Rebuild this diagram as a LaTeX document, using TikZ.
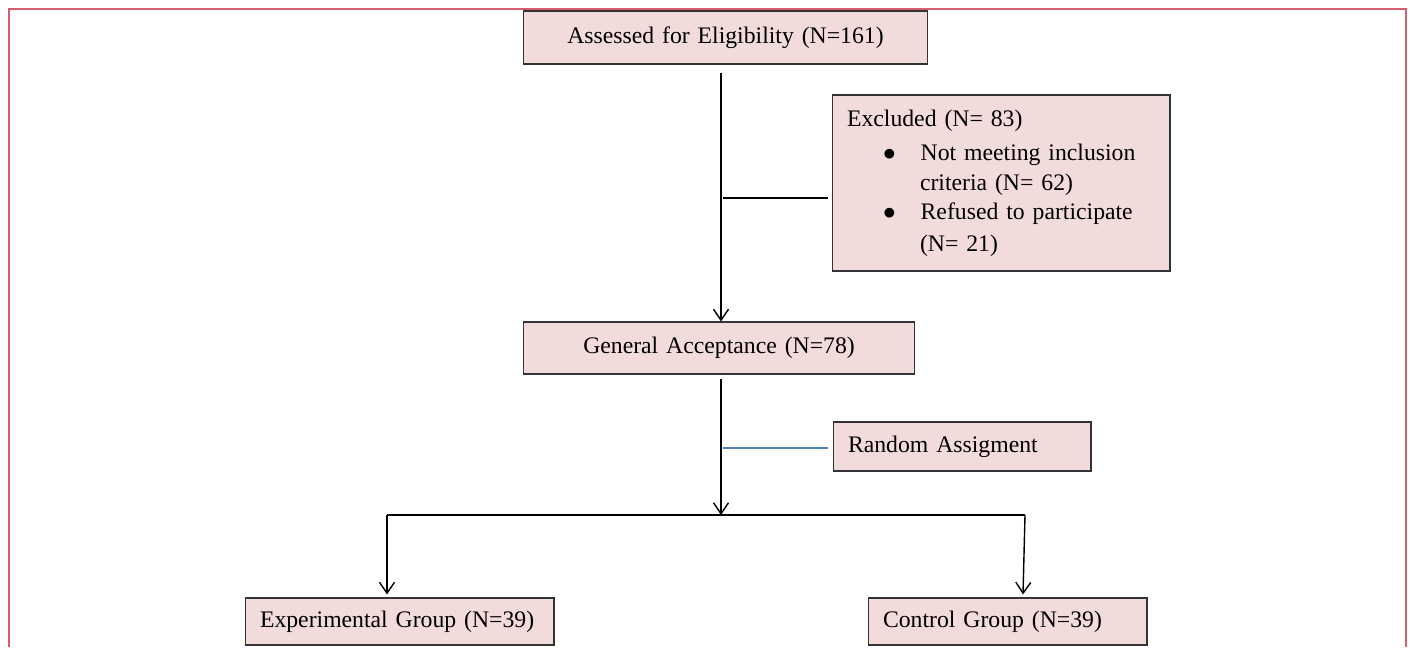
\documentclass[tikz,border=0pt]{standalone}
\usepackage{fontspec}
\setmainfont{Liberation Serif}
\usetikzlibrary{arrows.meta}
\usetikzlibrary{calc}
\definecolor{boxfill}{RGB}{242,220,219}
\definecolor{framered}{RGB}{214,92,112}
\definecolor{linkblue}{RGB}{79,129,189}

\begin{document}
\begin{tikzpicture}[x=0.02cm, y=-0.02cm, thick,
    box/.style={draw=black!80, fill=boxfill, line width=0.6pt, inner xsep=0.3cm,
      inner ysep=0pt, font=\fontsize{13.5}{16.8}\selectfont},
    arr/.style={line width=0.8pt, -{Straight Barb[length=0.22cm, width=0.3cm]}},
    link/.style={line width=0.8pt}]
  \useasboundingbox (0,0) rectangle (1410,647);
  \draw[framered, line width=0.9pt] (9,647) -- (9,9) -- (1406,9) -- (1406,647);
  \node[box, text width=7.5cm, align=center, minimum height=1.06cm] (assess)
    at (725.5,37.5) {Assessed for Eligibility (N=161)};
  \node[box, text width=6.16cm, align=left, minimum height=3.52cm] (excl)
    at (1001,183) {Excluded (N= 83)\\[3pt]
    \hspace*{0.72cm}$\bullet$\hspace*{0.5cm}Not meeting inclusion\\
    \hspace*{1.46cm}criteria (N= 62)\\
    \hspace*{0.72cm}$\bullet$\hspace*{0.5cm}Refused to participate\\[1pt]
    \hspace*{1.46cm}(N= 21)};
  \node[box, text width=7.24cm, align=center, minimum height=1.04cm] (accept)
    at (719,348) {General Acceptance (N=78)};
  \node[box, text width=4.56cm, align=left, minimum height=0.98cm] (rand)
    at (962,446.5) {Random Assigment};
  \node[box, text width=5.58cm, align=left, minimum height=0.94cm] (expg)
    at (399.5,621.5) {Experimental Group (N=39)};
  \node[box, text width=4.98cm, align=left, minimum height=0.94cm] (ctrl)
    at (1007.5,621.5) {Control Group (N=39)};
  % junctions on the main line
  \coordinate (jex) at (721,198); \coordinate (jra) at (721,448);
  \coordinate (jsp) at (721,515); \coordinate (jl) at (387,515);
  \coordinate (jr) at (1025,515);
  \draw[arr, shorten <=0.16cm] (assess.south -| jex) -- (accept.north -| jex);
  \draw[link, shorten <=0.04cm, shorten >=0.08cm] (jex) -- (excl.west |- jex);
  \draw[arr, shorten <=0.08cm] (accept.south -| jsp) -- (jsp);
  \draw[linkblue, line width=0.8pt, shorten <=0.04cm, shorten >=0.1cm] (jra) -- (rand.west |- jra);
  \draw[link] (jl) -- (jr);
  \draw[arr, shorten >=0.06cm] (jl) -- (jl |- expg.north);
  \draw[arr] (jr) -- ([xshift=0.31cm, yshift=0.06cm]ctrl.north);
\end{tikzpicture}
\end{document}
